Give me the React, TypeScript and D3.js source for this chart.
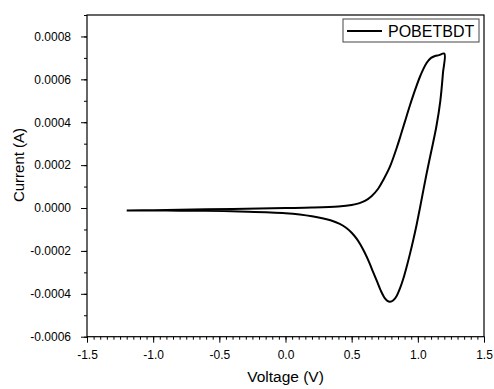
import React, { useEffect, useRef } from 'react';
import * as d3 from 'd3';

// forward scan (upper branch), -1.2 V -> 1.2 V
const forwardVoltage = [-1.2, -1.0, -0.8, -0.6, -0.4, -0.2, 0.0, 0.2, 0.4, 0.5, 0.56, 0.6, 0.65, 0.7, 0.74, 0.79, 0.84, 0.87, 0.9, 0.94, 0.98, 1.02, 1.066, 1.1, 1.13, 1.16, 1.2];
const forwardCurrent = [-0.000012, -0.00001, -0.000008, -0.000006, -0.000004, -0.000002, 0.0, 0.000002, 0.000007, 0.000014, 0.000023, 0.000033, 0.000055, 0.00009, 0.000132, 0.000194, 0.00028, 0.000338, 0.000398, 0.000478, 0.000552, 0.000618, 0.000676, 0.0007, 0.000709, 0.000713, 0.00072];

// reverse scan (lower branch), 1.2 V -> -1.2 V
const reverseVoltage = [1.2, 1.19, 1.17, 1.14, 1.1, 1.066, 1.016, 0.99, 0.965, 0.94, 0.915, 0.89, 0.865, 0.84, 0.815, 0.79, 0.77, 0.75, 0.72, 0.69, 0.66, 0.63, 0.6, 0.57, 0.54, 0.5, 0.46, 0.41, 0.34, 0.2, 0.0, -0.35, -0.6, -0.9, -1.2];
const reverseCurrent = [0.00072, 0.00063, 0.0005, 0.00038, 0.00026, 0.00016, 0.0, -0.00008, -0.00015, -0.000215, -0.000275, -0.00033, -0.000375, -0.00041, -0.00043, -0.000437, -0.000433, -0.00042, -0.000385, -0.00034, -0.000295, -0.00025, -0.00021, -0.000175, -0.000145, -0.000115, -0.000093, -0.000074, -0.000057, -0.000038, -0.000024, -0.000016, -0.000013, -0.000012, -0.000012];

const xTicks = [-1.5, -1.0, -0.5, 0.0, 0.5, 1.0, 1.5];
const yTicks = [-0.0006, -0.0004, -0.0002, 0.0, 0.0002, 0.0004, 0.0006, 0.0008];
const seriesName = 'POBETBDT';

const W = 494;
const H = 389;
const FONT = '"Liberation Sans", Arial, sans-serif';

const App = () => {
  const ref = useRef<SVGSVGElement | null>(null);

  useEffect(() => {
    if (!ref.current) return;
    const svg = d3.select(ref.current);
    svg.selectAll('*').remove();

    const left = 87, right = 484, top = 15, bottom = 336.7;
    const x = d3.scaleLinear().domain([-1.5, 1.5]).range([left, right]);
    const y = d3.scaleLinear().domain([-0.0006, 0.0009]).range([bottom, top]);

    // frame
    svg.append('rect')
      .attr('x', left).attr('y', top)
      .attr('width', right - left).attr('height', bottom - top)
      .attr('fill', 'none').attr('stroke', '#000').attr('stroke-width', 1.2);

    // minor ticks
    const xMinor = d3.range(-1.5, 1.5001, 0.05);
    const yMinor = d3.range(-0.0006, 0.00090001, 0.0001);
    svg.append('g')
      .attr('transform', `translate(0,${bottom})`)
      .call(d3.axisBottom(x).tickValues(xMinor).tickSize(3).tickSizeOuter(0).tickFormat(() => ''))
      .call(g => g.select('.domain').remove());
    svg.append('g')
      .attr('transform', `translate(${left},0)`)
      .call(d3.axisLeft(y).tickValues(yMinor).tickSize(3).tickSizeOuter(0).tickFormat(() => ''))
      .call(g => g.select('.domain').remove());

    // major ticks + labels
    const xAxis = svg.append('g')
      .attr('transform', `translate(0,${bottom})`)
      .call(d3.axisBottom(x).tickValues(xTicks).tickSize(6).tickSizeOuter(0).tickPadding(8)
        .tickFormat(d => (d as number).toFixed(1)));
    const yAxis = svg.append('g')
      .attr('transform', `translate(${left},0)`)
      .call(d3.axisLeft(y).tickValues(yTicks).tickSize(6).tickSizeOuter(0).tickPadding(10)
        .tickFormat(d => (d as number).toFixed(4)));
    [xAxis, yAxis].forEach(g => {
      g.select('.domain').remove();
      g.selectAll('text').attr('font-family', FONT).attr('font-size', 12).attr('fill', '#000');
      g.selectAll('line').attr('stroke', '#000');
    });
    svg.selectAll('.tick line').attr('stroke-width', 1);

    // axis titles
    svg.append('text')
      .attr('x', (left + right) / 2).attr('y', 382)
      .attr('text-anchor', 'middle')
      .attr('font-family', FONT).attr('font-size', 15.5)
      .text('Voltage (V)');
    svg.append('text')
      .attr('transform', `translate(24,165) rotate(-90)`)
      .attr('text-anchor', 'middle')
      .attr('font-family', FONT).attr('font-size', 15)
      .text('Current (A)');

    // CV loop
    const pts: [number, number][] = [
      ...forwardVoltage.map((v, i) => [v, forwardCurrent[i]] as [number, number]),
      ...reverseVoltage.slice(1).map((v, i) => [v, reverseCurrent[i + 1]] as [number, number]),
    ];
    const line = d3.line<[number, number]>()
      .x(d => x(d[0]))
      .y(d => y(d[1]))
      .curve(d3.curveCatmullRom.alpha(0.5));
    svg.append('path')
      .attr('d', line(pts))
      .attr('fill', 'none')
      .attr('stroke', '#000')
      .attr('stroke-width', 2)
      .attr('stroke-linejoin', 'round');

    // legend
    const lg = svg.append('g');
    lg.append('rect')
      .attr('x', 343).attr('y', 19).attr('width', 136).attr('height', 23)
      .attr('fill', '#fff').attr('stroke', '#444').attr('stroke-width', 1);
    lg.append('line')
      .attr('x1', 347).attr('x2', 382).attr('y1', 31).attr('y2', 31)
      .attr('stroke', '#000').attr('stroke-width', 2);
    lg.append('text')
      .attr('x', 388).attr('y', 37)
      .attr('font-family', FONT).attr('font-size', 16)
      .text(seriesName);
  }, []);

  return (
    <div style={{ position: 'fixed', left: 0, top: 0, background: '#fff' }}>
      <svg ref={ref} width={W} height={H} style={{ display: 'block' }} />
    </div>
  );
};

export default App;
